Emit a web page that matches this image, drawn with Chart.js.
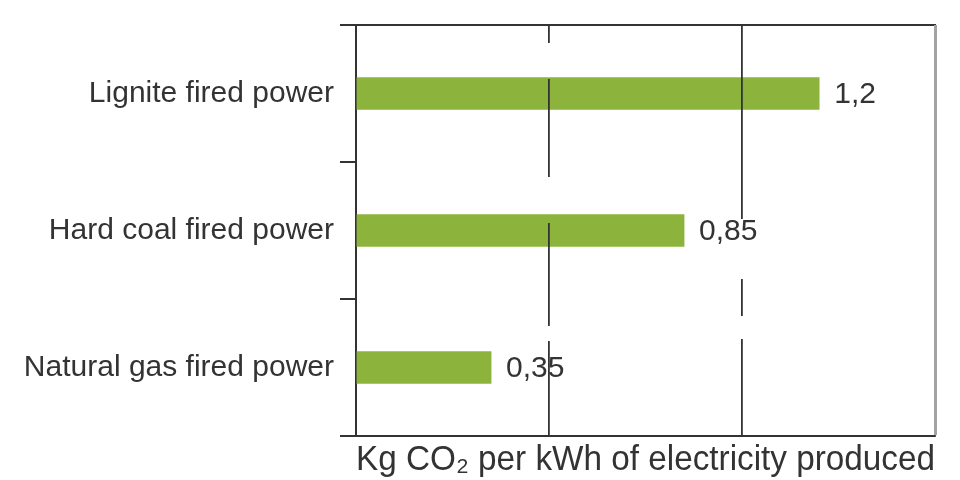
<!DOCTYPE html>
<html>
<head>
<meta charset="utf-8">
<script src="https://cdn.jsdelivr.net/npm/chart.js@4.4.1/dist/chart.umd.min.js"></script>
<style>
  html, body { margin: 0; padding: 0; background: #fff; }
</style>
</head>
<body>
<canvas id="myBarChart" width="960" height="480"></canvas>
<script>
// dados
var categorias = ["Lignite fired power", "Hard coal fired power", "Natural gas fired power"];
var valores = [1.2, 0.85, 0.35];
var limitesX = [0, 1.5];
var passoX = 0.5;
var tituloX = "Kg CO\u2082 per kWh of electricity produced";

var fonte = "'Liberation Sans', Arial, sans-serif";
var corTexto = "#333";

// rotulos com virgula no fim de cada barra
var rotulosValores = {
  id: "rotulosValores",
  afterDatasetsDraw: function (chart) {
    var ctx = chart.ctx;
    var meta = chart.getDatasetMeta(0);
    ctx.save();
    ctx.font = "30px " + fonte;
    ctx.fillStyle = corTexto;
    ctx.textAlign = "left";
    ctx.textBaseline = "middle";
    meta.data.forEach(function (barra, i) {
      var texto = String(valores[i]).replace(".", ",");
      ctx.fillText(texto, barra.x + 15, barra.y + 1);
    });
    ctx.restore();
  },
};

function corGrade(ctx) {
  if (!ctx.tick) return corTexto;
  if (ctx.tick.value === 0) return "rgba(0,0,0,0)";
  if (ctx.tick.value === limitesX[1]) return "#a3a3a3";
  return corTexto;
}

function larguraGrade(ctx) {
  if (ctx.tick && ctx.tick.value === limitesX[1]) return 3;
  return 1.8;
}

// tracejado irregular das linhas verticais, como no original
function tracoGrade(ctx) {
  if (!ctx.tick) return [];
  if (ctx.tick.value === 0.5) return [18, 36, 98, 46, 103, 15, 300, 0];
  if (ctx.tick.value === 1) return [194, 60, 37, 23, 300, 0];
  return [];
}

var config = {
  type: "bar",
  data: {
    labels: categorias,
    datasets: [
      {
        data: valores,
        backgroundColor: "#8cb43c",
        barThickness: 32,
      },
    ],
  },
  options: {
    indexAxis: "y",
    responsive: false,
    animation: false,
    layout: { padding: { top: 17, right: 25, bottom: 0, left: 0 } },
    plugins: {
      legend: { display: false },
      tooltip: { enabled: false },
    },
    scales: {
      x: {
        min: limitesX[0],
        max: limitesX[1],
        ticks: { display: false, stepSize: passoX },
        grid: { drawTicks: false, color: corGrade, lineWidth: larguraGrade, z: 1 },
        border: { color: corTexto, width: 2, dash: tracoGrade, z: 2 },
        title: {
          display: true,
          text: tituloX,
          color: corTexto,
          font: { family: fonte, size: 35, lineHeight: 1 },
          padding: { top: 0, bottom: 2 },
        },
        afterFit: function (escala) {
          escala.height = 44;
        },
      },
      x2: {
        type: "linear",
        position: "top",
        grid: { display: false },
        ticks: { display: false },
        border: { color: corTexto, width: 2 },
      },
      y: {
        grid: {
          offset: true,
          drawOnChartArea: false,
          tickLength: 16,
          color: corTexto,
          lineWidth: 2,
        },
        border: { color: corTexto, width: 2 },
        ticks: {
          color: corTexto,
          padding: 6,
          font: { family: fonte, size: 30 },
        },
        afterFit: function (escala) {
          escala.width = 356;
        },
      },
    },
  },
  plugins: [rotulosValores],
};

var myChart = new Chart(document.getElementById("myBarChart"), config);
</script>
</body>
</html>
